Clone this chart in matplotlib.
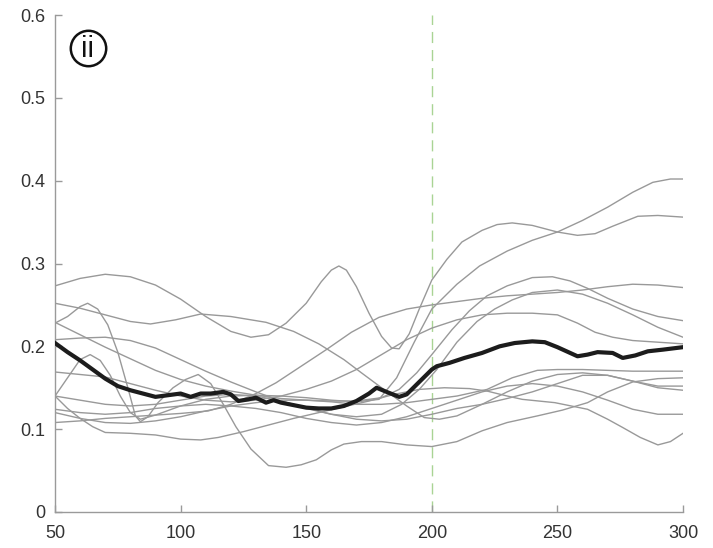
import numpy as np
import matplotlib
matplotlib.use('Agg')
import matplotlib.pyplot as plt

plt.rcParams['font.family'] = ['Liberation Sans', 'DejaVu Sans']

# individual traces, (x, y) knots
g01 = [(50,0.273),(60,0.282),(70,0.287),(80,0.284),(90,0.274),(100,0.257),(110,0.236),(120,0.218),
       (128,0.211),(135,0.214),(142,0.228),(150,0.252),(156,0.278),(160,0.292),(163,0.297),(166,0.292),
       (170,0.272),(175,0.24),(180,0.212),(184,0.198),(187,0.197),(191,0.215),(195,0.245),(200,0.28),
       (206,0.305),(212,0.326),(220,0.34),(226,0.347),(232,0.349),(240,0.346),(250,0.338),(258,0.334),
       (265,0.336),(272,0.345),(282,0.357),(290,0.358),(300,0.356)]
g02 = [(50,0.252),(60,0.246),(70,0.238),(80,0.23),(88,0.227),(98,0.232),(108,0.239),(120,0.236),
       (134,0.229),(145,0.218),(155,0.203),(165,0.184),(172,0.168),(180,0.15),(190,0.128),(197,0.114),
       (203,0.112),(210,0.116),(220,0.13),(230,0.145),(240,0.158),(250,0.166),(260,0.168),(270,0.165),
       (280,0.158),(290,0.15),(300,0.147)]
g03 = [(50,0.228),(55,0.236),(60,0.248),(63,0.252),(67,0.245),(71,0.226),(75,0.193),(79,0.15),
       (82,0.116),(84,0.109),(87,0.115),(91,0.132),(97,0.15),(102,0.16),(107,0.166),(112,0.155),
       (117,0.13),(122,0.103),(128,0.076),(135,0.056),(142,0.054),(148,0.057),(154,0.063),(160,0.075),
       (165,0.082),(172,0.085),(180,0.085),(190,0.081),(200,0.079),(210,0.085),(220,0.098),(230,0.108),
       (242,0.116),(252,0.123),(262,0.132),(270,0.145),(280,0.157),(290,0.161),(300,0.162)]
g04 = [(50,0.14),(55,0.162),(60,0.184),(64,0.19),(68,0.183),(72,0.165),(76,0.14),(80,0.12),
       (84,0.112),(90,0.117),(100,0.128),(110,0.136),(120,0.14),(130,0.141),(140,0.14),(150,0.138),
       (160,0.135),(170,0.133),(179,0.136),(186,0.162),(193,0.205),(200,0.245),(210,0.275),(219,0.297),
       (230,0.315),(240,0.328),(250,0.338),(260,0.352),(270,0.368),(280,0.386),(288,0.398),(295,0.402),
       (300,0.402)]
g05 = [(50,0.208),(60,0.21),(70,0.211),(80,0.207),(90,0.198),(100,0.184),(110,0.17),(120,0.157),
       (130,0.145),(140,0.134),(150,0.125),(160,0.118),(170,0.115),(180,0.118),(188,0.13),(195,0.148),
       (202,0.172),(210,0.205),(218,0.23),(225,0.245),(232,0.256),(240,0.265),(250,0.268),(260,0.263),
       (270,0.252),(280,0.238),(290,0.223),(300,0.211)]
g06 = [(50,0.229),(60,0.214),(70,0.199),(80,0.185),(90,0.171),(100,0.16),(110,0.152),(120,0.146),
       (130,0.141),(140,0.137),(150,0.135),(160,0.134),(170,0.134),(180,0.138),(187,0.148),(194,0.168),
       (200,0.19),(208,0.22),(215,0.243),(222,0.261),(230,0.273),(240,0.283),(248,0.284),(255,0.279),
       (262,0.27),(270,0.258),(280,0.245),(290,0.236),(300,0.231)]
g07 = [(50,0.169),(60,0.166),(70,0.163),(80,0.155),(90,0.147),(100,0.14),(110,0.135),(120,0.133),
       (130,0.135),(140,0.14),(150,0.148),(160,0.158),(170,0.172),(180,0.19),(190,0.208),(200,0.222),
       (210,0.232),(220,0.238),(230,0.24),(240,0.24),(250,0.238),(258,0.228),(265,0.217),(272,0.211),
       (280,0.207),(290,0.205),(300,0.203)]
g08 = [(50,0.14),(55,0.125),(60,0.113),(65,0.103),(70,0.096),(80,0.095),(90,0.093),(100,0.088),
       (108,0.087),(115,0.09),(125,0.097),(135,0.105),(145,0.113),(155,0.12),(165,0.127),(175,0.134),
       (185,0.142),(195,0.148),(205,0.15),(215,0.149),(222,0.146),(230,0.14),(236,0.136),(249,0.132),
       (262,0.124),(270,0.112),(276,0.102),(283,0.09),(290,0.081),(295,0.085),(300,0.095)]
g09 = [(50,0.124),(60,0.12),(70,0.118),(80,0.12),(90,0.125),(100,0.128),(110,0.13),(120,0.128),
       (130,0.125),(140,0.12),(150,0.113),(160,0.108),(170,0.105),(180,0.108),(190,0.115),(200,0.125),
       (210,0.135),(220,0.145),(230,0.152),(240,0.155),(250,0.152),(260,0.145),(270,0.135),(280,0.124),
       (290,0.118),(300,0.118)]
g10 = [(50,0.108),(60,0.11),(70,0.113),(80,0.115),(90,0.117),(100,0.119),(111,0.122),(120,0.13),
       (130,0.143),(138,0.156),(148,0.176),(158,0.196),(168,0.217),(179,0.235),(190,0.245),(200,0.25),
       (210,0.254),(220,0.258),(230,0.261),(240,0.263),(250,0.265),(260,0.268),(270,0.272),(280,0.275),
       (290,0.274),(300,0.271)]
g11 = [(50,0.12),(60,0.113),(70,0.108),(80,0.107),(90,0.11),(100,0.115),(110,0.122),(120,0.128),
       (130,0.132),(140,0.135),(150,0.135),(160,0.133),(170,0.13),(180,0.13),(190,0.132),(200,0.136),
       (210,0.14),(222,0.148),(232,0.162),(242,0.171),(250,0.172),(260,0.172),(270,0.171),(280,0.17),
       (290,0.17),(300,0.17)]
g12 = [(50,0.14),(60,0.135),(70,0.13),(80,0.128),(90,0.13),(100,0.135),(110,0.14),(120,0.142),
       (130,0.14),(140,0.134),(150,0.126),(160,0.118),(170,0.112),(180,0.11),(190,0.112),(200,0.118),
       (210,0.125),(220,0.13),(230,0.137),(240,0.145),(250,0.155),(260,0.165),(270,0.165),(280,0.158),
       (290,0.152),(300,0.152)]
traces = [g01, g02, g03, g04, g05, g06, g07, g08, g09, g10, g11, g12]

# average trace
mean_x = [50, 55, 60, 65, 70, 75, 80, 85, 90, 95, 100, 104, 108, 112, 117, 120, 123, 127, 130, 134,
          137, 140, 145, 150, 155, 160, 165, 170, 175, 178, 182, 187, 190, 195, 200, 202, 207, 213,
          220, 227, 233, 240, 245, 250, 258, 262, 266, 272, 276, 281, 286, 292, 300]
mean_y = [0.204, 0.193, 0.183, 0.172, 0.161, 0.152, 0.147, 0.143, 0.139, 0.141, 0.143, 0.139, 0.143,
          0.143, 0.145, 0.142, 0.134, 0.136, 0.138, 0.132, 0.135, 0.132, 0.129, 0.126, 0.125, 0.125,
          0.128, 0.134, 0.143, 0.15, 0.145, 0.139, 0.142, 0.157, 0.172, 0.176, 0.180, 0.186, 0.192,
          0.200, 0.204, 0.206, 0.205, 0.199, 0.188, 0.190, 0.193, 0.192, 0.186, 0.189, 0.194, 0.196,
          0.199]

x_ticks = [50, 100, 150, 200, 250, 300]
y_ticks = [0, 0.1, 0.2, 0.3, 0.4, 0.5, 0.6]
onset = 200
panel = 'ii'

fig = plt.figure(figsize=(7.13, 5.48), dpi=100)
ax = fig.add_axes([55/713, 36/548, 628/713, 497/548])

for tr in traces:
    xs, ys = zip(*tr)
    ax.plot(xs, ys, color='#999999', lw=1.0, solid_joinstyle='round')
ax.plot(mean_x, mean_y, color='#1c1c1c', lw=3.0, solid_joinstyle='round', zorder=5)
ax.axvline(onset, color='#a9d494', lw=1.0, dashes=(8, 5), zorder=1)

ax.set_xlim(50, 300)
ax.set_ylim(0, 0.6)
ax.set_xticks(x_ticks)
ax.set_xticklabels([str(v) for v in x_ticks])
ax.set_yticks(y_ticks)
ax.set_yticklabels(['0'] + ['%.1f' % v for v in y_ticks[1:]])
for s in ['top', 'right']:
    ax.spines[s].set_visible(False)
for s in ['left', 'bottom']:
    ax.spines[s].set_color('#9a9a9a')
    ax.spines[s].set_linewidth(1.0)
ax.tick_params(direction='in', length=5, width=1.0, color='#9a9a9a',
               labelsize=13, labelcolor='#333333')
ax.tick_params(axis='x', pad=9)
ax.tick_params(axis='y', pad=7)

# panel badge
ax.plot([63], [0.56], marker='o', markersize=25.5, mfc='white', mec='#111111', mew=1.8,
        clip_on=False, zorder=6)
ax.text(63, 0.559, panel, ha='center', va='center', fontsize=21, color='#111111', zorder=7)

plt.savefig('out.png', dpi=100)
